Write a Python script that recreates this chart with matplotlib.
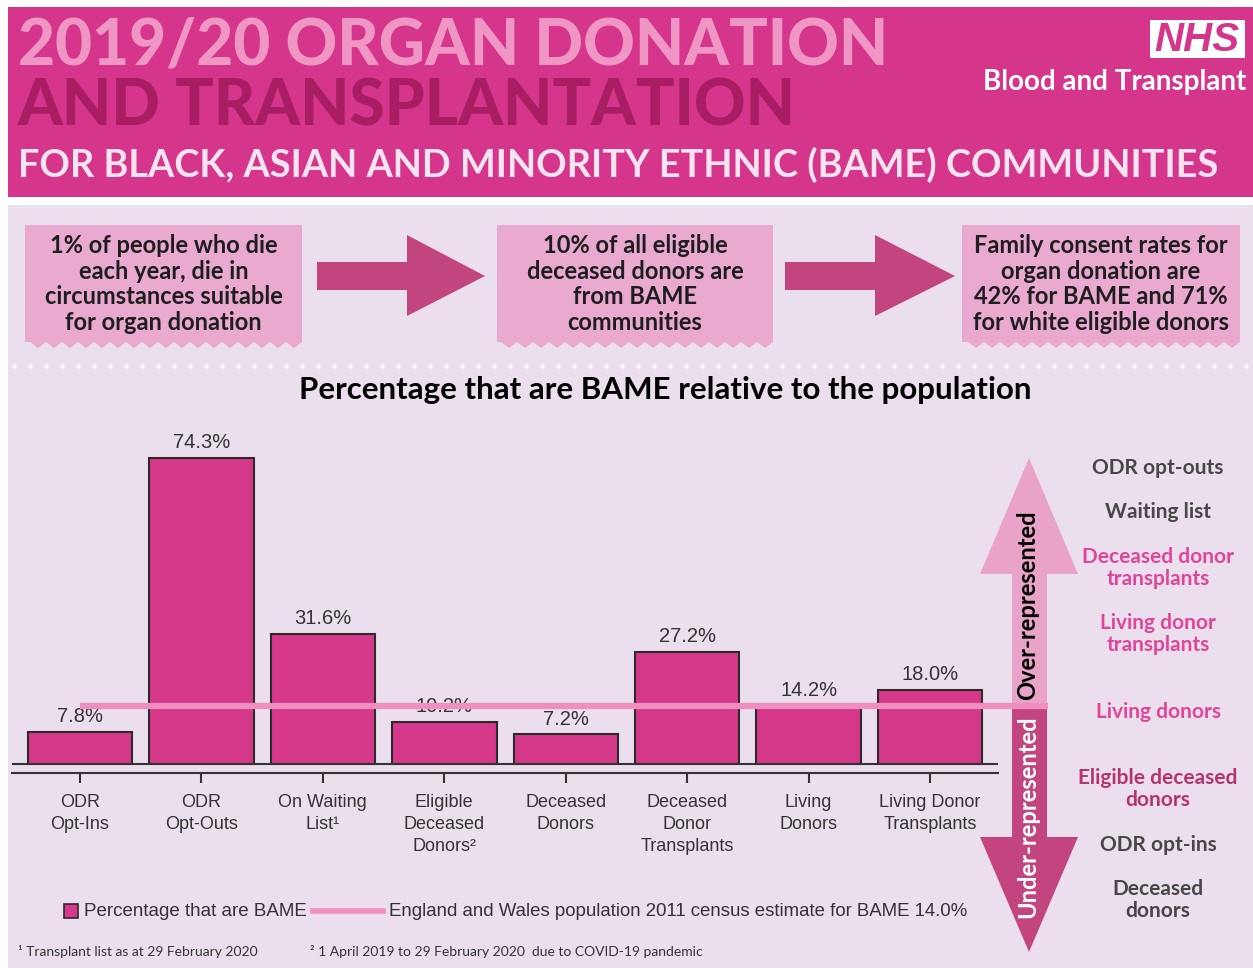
import numpy as np
import matplotlib
matplotlib.use('agg')
import matplotlib.pyplot as plt
from matplotlib.patches import Rectangle, Polygon

# data
categories = ['ODR\nOpt-Ins', 'ODR\nOpt-Outs', 'On Waiting\nList\u00b9', 'Eligible\nDeceased\nDonors\u00b2',
              'Deceased\nDonors', 'Deceased\nDonor\nTransplants', 'Living\nDonors', 'Living Donor\nTransplants']
values = [7.8, 74.3, 31.6, 10.2, 7.2, 27.2, 14.2, 18.0]
population_bame = 14.0

box_texts = ['1% of people who die\neach year, die in\ncircumstances suitable\nfor organ donation',
             '10% of all eligible\ndeceased donors are\nfrom BAME\ncommunities',
             'Family consent rates for\norgan donation are\n42% for BAME and 71%\nfor white eligible donors']

rank_labels = ['ODR opt-outs', 'Waiting list', 'Deceased donor\ntransplants', 'Living donor\ntransplants',
               'Living donors', 'Eligible deceased\ndonors', 'ODR opt-ins', 'Deceased\ndonors']
rank_y = [468, 512, 568, 634, 712, 789, 845, 900]
rank_colors = ['#474747', '#474747', '#e0459a', '#e0459a', '#e0459a', '#b5346f', '#474747', '#474747']

header_c = '#d5358a'
lav = '#ecdfed'
box_c = '#eaa9cf'
arrow_c = '#c2457f'
bar_c = '#d6388a'
ref_c = '#ef8fc0'
txt = '#333333'

fig = plt.figure(figsize=(12.53, 9.68), dpi=100)
fig.patch.set_facecolor('white')
bg = fig.add_axes([0, 0, 1, 1])
bg.set_xlim(0, 1253)
bg.set_ylim(968, 0)
bg.axis('off')

# header
bg.add_patch(Rectangle((8, 7), 1245, 190, color=header_c, lw=0))
bg.add_patch(Rectangle((8, 205), 1245, 763, color=lav, lw=0))
bg.text(18, 46, '2019/20 ORGAN DONATION', fontsize=46, family='Lato', weight='black',
        color='#ef96c4', va='center', ha='left')
bg.text(18, 107, 'AND TRANSPLANTATION', fontsize=46, family='Lato', weight='black',
        color='#a91e63', va='center', ha='left')
bg.text(18, 165, 'FOR BLACK, ASIAN AND MINORITY ETHNIC (BAME) COMMUNITIES', fontsize=27.3,
        family='Lato', weight='bold', color='#f6e4f0', va='center', ha='left')
bg.add_patch(Rectangle((1150, 20), 95, 38, color='white', lw=0))
bg.text(1197, 40, 'NHS', fontsize=29, family='Liberation Sans', weight='bold', style='italic',
        color=header_c, ha='center', va='center')
bg.text(1246, 82, 'Blood and Transplant', fontsize=20, family='Lato', weight='bold',
        color='white', ha='right', va='center')

# fact boxes with zigzag bottom
def zig_box(x0, x1, y0, y1, period=16, depth=6):
    pts = [(x0, y0), (x1, y0), (x1, y1)]
    xs = np.arange(x1, x0, -period / 2)
    for i, xv in enumerate(xs):
        pts.append((xv, y1 + (depth if i % 2 else 0)))
    pts.append((x0, y1))
    return Polygon(pts, closed=True, color=box_c, lw=0)

for (x0, x1), t in zip([(25, 302), (497, 773), (962, 1240)], box_texts):
    bg.add_patch(zig_box(x0, x1, 225, 342))
    bg.text((x0 + x1) / 2, 284, t, fontsize=17, family='Lato', weight='bold', color='#1e1e1e',
            ha='center', va='center', linespacing=1.14)

for xs, xh, xt in [(317, 407, 485), (785, 875, 955)]:
    bg.add_patch(Polygon([(xs, 262), (xh, 262), (xh, 235), (xt, 276), (xh, 316), (xh, 290), (xs, 290)],
                         closed=True, color=arrow_c, lw=0))

dots = np.arange(14, 1253, 16)
bg.plot(dots, np.full(len(dots), 366), ls='none', marker='o', ms=3, color='white', mec='none')

bg.text(665, 390, 'Percentage that are BAME relative to the population', fontsize=22.5,
        family='Lato', weight='bold', color='black', ha='center', va='center')

# right-hand double arrow
bg.add_patch(Polygon([(1012, 707), (1012, 574), (980, 574), (1029, 458), (1078, 574), (1047, 574), (1047, 707)],
                     closed=True, color='#e9a3c9', lw=0))
bg.add_patch(Polygon([(1012, 707), (1012, 837), (980, 837), (1029, 952), (1078, 837), (1047, 837), (1047, 707)],
                     closed=True, color=arrow_c, lw=0))
bg.text(1028, 605, 'Over-represented', rotation=90, fontsize=17, family='Lato', weight='bold',
        color='black', ha='center', va='center')
bg.text(1028, 817, 'Under-represented', rotation=90, fontsize=17, family='Lato', weight='bold',
        color='white', ha='center', va='center')
for lab, yv, c in zip(rank_labels, rank_y, rank_colors):
    bg.text(1158, yv, lab, fontsize=15, family='Lato', weight='bold', color=c,
            ha='center', va='center', linespacing=1.1)

# bar chart
ax = fig.add_axes([12 / 1253, (968 - 773) / 968, 986 / 1253, 333 / 968])
ax.patch.set_alpha(0)
x = np.arange(len(categories))
bars = ax.bar(x, values, width=0.86, color=bar_c, edgecolor='#2b2b2b', linewidth=1.5, zorder=2)
ax.set_xlim(-0.56, 7.56)
ax.set_ylim(-2.18, 78.64)
ax.axhline(0, color=txt, lw=1.5, zorder=3)
ax.hlines(population_bame, 0, 7.97, color=ref_c, lw=4.5, zorder=5, clip_on=False)
ax.bar_label(bars, labels=[f'{v:.1f}%' for v in values], padding=4, fontsize=14.5,
             family='Liberation Sans', color=txt, zorder=4)
ax.set_xticks(x, categories, fontsize=13, family='Liberation Sans', color=txt, linespacing=1.38)
ax.tick_params(axis='x', length=7, width=1.5, color=txt, pad=8)
ax.set_yticks([])
for s in ['left', 'top', 'right']:
    ax.spines[s].set_visible(False)
ax.spines['bottom'].set_linewidth(1.5)
ax.spines['bottom'].set_color(txt)

# legend drawn by hand
bg.add_patch(Rectangle((64, 904), 14, 14, facecolor=bar_c, edgecolor='#2b2b2b', lw=1.2))
bg.text(84, 911, 'Percentage that are BAME', fontsize=13.5, family='Liberation Sans',
        color=txt, va='center', ha='left')
bg.plot([313, 383], [911, 911], color=ref_c, lw=4)
bg.text(389, 911, 'England and Wales population 2011 census estimate for BAME 14.0%', fontsize=13.4,
        family='Liberation Sans', color=txt, va='center', ha='left')

bg.text(18, 951, '\u00b9 Transplant list as at 29 February 2020', fontsize=10,
        family=['Lato', 'DejaVu Sans'], color=txt, va='center', ha='left')
bg.text(310, 951, '\u00b2 1 April 2019 to 29 February 2020  due to COVID-19 pandemic', fontsize=10,
        family=['Lato', 'DejaVu Sans'], color=txt, va='center', ha='left')

plt.savefig('out.png', dpi=100)
plt.close()
